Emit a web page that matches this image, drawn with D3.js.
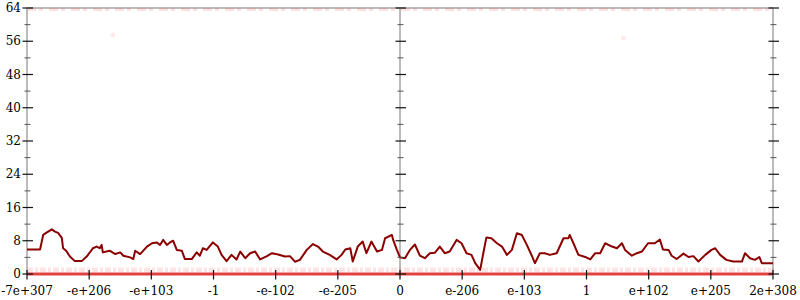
<!DOCTYPE html>
<html><head><meta charset="utf-8">
<script src="https://cdn.jsdelivr.net/npm/d3@7"></script>
<style>body{margin:0;background:#fff}svg{display:block}text{font-family:"DejaVu Serif",serif;font-size:12px;fill:#000}</style>
</head><body><svg id="c" width="800" height="300"></svg>
<script>
const xTickLabels = ["-7e+307","-e+206","-e+103","-1","-e-102","-e-205","0","e-206","e-103","1","e+102","e+205","2e+308"];
const xTickPos = [-6,-5,-4,-3,-2,-1,0,1,2,3,4,5,6];
const yTicks = [0,8,16,24,32,40,48,56,64];
const yMinor = [4,12,20,28,36,44,52,60];
const lineX = [-6.00,-5.79,-5.74,-5.68,-5.60,-5.55,-5.50,-5.44,-5.42,-5.37,-5.31,-5.23,-5.12,-5.04,-4.94,-4.88,-4.83,-4.80,-4.78,-4.67,-4.58,-4.50,-4.45,-4.34,-4.29,-4.26,-4.18,-4.07,-3.99,-3.91,-3.86,-3.81,-3.75,-3.70,-3.65,-3.59,-3.51,-3.46,-3.35,-3.27,-3.22,-3.17,-3.11,-3.01,-2.93,-2.87,-2.79,-2.71,-2.63,-2.57,-2.49,-2.41,-2.33,-2.25,-2.14,-2.06,-1.96,-1.85,-1.77,-1.69,-1.61,-1.50,-1.40,-1.32,-1.24,-1.13,-1.02,-0.94,-0.88,-0.80,-0.76,-0.68,-0.60,-0.54,-0.46,-0.37,-0.29,-0.24,-0.13,-0.11,-0.05,0.00,0.08,0.16,0.24,0.32,0.40,0.48,0.56,0.64,0.72,0.80,0.91,0.99,1.07,1.15,1.21,1.29,1.34,1.39,1.47,1.56,1.64,1.72,1.80,1.88,1.96,2.04,2.12,2.17,2.25,2.33,2.41,2.52,2.63,2.71,2.73,2.79,2.87,2.98,3.06,3.14,3.22,3.30,3.41,3.49,3.57,3.62,3.73,3.81,3.89,3.99,4.10,4.18,4.23,4.32,4.37,4.45,4.56,4.64,4.72,4.80,4.91,5.01,5.07,5.15,5.25,5.36,5.50,5.55,5.63,5.71,5.78,5.82,6.00];
const lineY = [5.9,5.9,9.4,10.0,10.75,10.2,9.9,8.7,6.2,5.6,4.2,3.1,3.1,4.2,6.2,6.6,6.2,7.0,5.2,5.6,4.8,5.2,4.4,4.0,3.6,5.6,4.8,6.6,7.4,7.6,7.0,8.2,7.0,7.6,8.0,5.8,5.6,3.6,3.6,5.2,4.4,6.2,5.8,7.6,6.6,4.6,3.1,4.6,3.5,5.4,3.8,5.0,5.4,3.5,4.3,5.0,4.7,4.2,4.3,2.96,3.4,5.8,7.2,6.6,5.4,4.6,3.5,4.6,5.9,6.2,3.0,6.6,7.8,5.0,7.8,5.4,5.8,8.6,9.4,8.2,5.8,4.0,3.8,5.8,7.1,4.4,3.8,5.0,5.1,6.6,5.0,5.4,8.2,7.4,5.0,4.6,2.6,1.0,5.0,8.8,8.6,7.4,6.6,4.6,5.8,9.8,9.4,7.0,4.4,2.6,5.0,5.0,4.6,5.0,8.6,8.6,9.4,7.4,4.6,4.1,3.5,5.0,5.0,7.4,6.6,6.2,7.4,5.8,4.4,5.0,5.4,7.4,7.4,8.3,5.9,5.8,4.4,3.6,4.9,4.1,4.3,3.0,4.6,5.8,6.2,4.6,3.4,3.0,3.0,5.0,3.8,3.4,4.1,2.6,2.6];
const bandValues = [0, 64];
const strayX = [-4.62, 3.59];
const strayY = [57.5, 56.8];

const svg = d3.select("#c");
const x = d3.scaleLinear().domain([-6,6]).range([27,773]);
const y = d3.scaleLinear().domain([0,64]).range([274,8]);
const axisXs = [-6, 0, 6];

// gray frame lines
svg.append("g").selectAll("line.v").data(axisXs).join("line")
  .attr("x1", d=>x(d)).attr("x2", d=>x(d)).attr("y1", y(0)).attr("y2", y(64))
  .attr("stroke", "#bbb").attr("stroke-width", 2);
svg.append("g").selectAll("line.h").data(bandValues).join("line")
  .attr("x1", x(-6)).attr("x2", x(6)).attr("y1", d=>y(d)).attr("y2", d=>y(d))
  .attr("stroke", "#bbb").attr("stroke-width", 2);

// faint point bands
svg.append("line").attr("x1", x(-6)).attr("x2", x(6))
  .attr("y1", y(bandValues[0]) - 4).attr("y2", y(bandValues[0]) - 4)
  .attr("stroke", "#f25a5a").attr("stroke-opacity", 0.16).attr("stroke-width", 5)
  .attr("stroke-dasharray", "6,2,3,2");
svg.append("line").attr("x1", x(-6)).attr("x2", x(6))
  .attr("y1", y(bandValues[0])).attr("y2", y(bandValues[0]))
  .attr("stroke", "#e52b2b").attr("stroke-opacity", 0.85).attr("stroke-width", 3);
svg.append("line").attr("x1", x(-6)).attr("x2", x(6))
  .attr("y1", y(bandValues[1]) + 1.5).attr("y2", y(bandValues[1]) + 1.5)
  .attr("stroke", "#f25a5a").attr("stroke-opacity", 0.18).attr("stroke-width", 3)
  .attr("stroke-dasharray", "9,3,4,6");
svg.append("g").selectAll("circle").data(strayX).join("circle")
  .attr("cx", d=>x(d)).attr("cy", (d,i)=>y(strayY[i])).attr("r", 2.5)
  .attr("fill", "#f25a5a").attr("fill-opacity", 0.12);

// line
const pts = lineX.map((d,i)=>[d, lineY[i]]);
svg.append("path").datum(pts)
  .attr("d", d3.line().x(d=>x(d[0])).y(d=>y(d[1])))
  .attr("fill", "none").attr("stroke", "#8b0000").attr("stroke-width", 2).attr("stroke-linejoin","round");

// y ticks on three vertical axes
axisXs.forEach(ax => {
  const g = svg.append("g");
  g.selectAll("line.maj").data(yTicks).join("line")
    .attr("x1", x(ax) - 4.5).attr("x2", x(ax) + 6).attr("y1", d=>y(d)).attr("y2", d=>y(d))
    .attr("stroke", "#111").attr("stroke-width", 1.2);
  g.selectAll("line.min").data(yMinor).join("line")
    .attr("x1", x(ax) - 2.5).attr("x2", x(ax) + 3.5).attr("y1", d=>y(d)).attr("y2", d=>y(d))
    .attr("stroke", "#555").attr("stroke-width", 1);
});
svg.append("g").selectAll("text").data(yTicks).join("text")
  .attr("x", 21).attr("y", d=>y(d)).attr("dy", "0.35em").attr("text-anchor", "end")
  .text(d=>d);

// x ticks
svg.append("g").selectAll("line").data(xTickPos).join("line")
  .attr("x1", d=>x(d)).attr("x2", d=>x(d)).attr("y1", y(0) - 4).attr("y2", y(0) + 5.5)
  .attr("stroke", "#111").attr("stroke-width", 1.2);
svg.append("g").selectAll("text").data(xTickPos).join("text")
  .attr("x", d=>x(d)).attr("y", 295).attr("text-anchor", "middle")
  .text((d,i)=>xTickLabels[i]);
</script></body></html>
